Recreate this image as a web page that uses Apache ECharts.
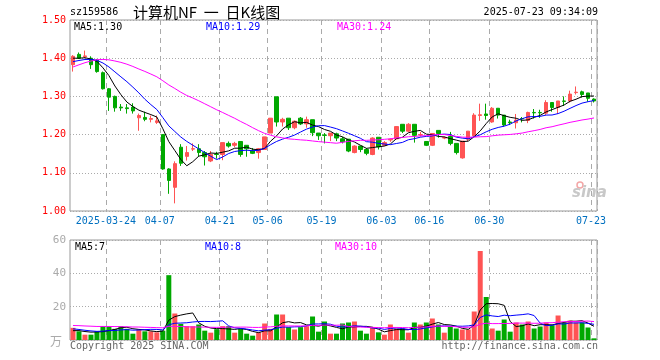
<!DOCTYPE html>
<html><head><meta charset="utf-8">
<script src="https://cdn.jsdelivr.net/npm/echarts@6/dist/echarts.min.js"></script>
<style>html,body{margin:0;padding:0;background:#fff}#c{width:660px;height:360px}</style>
</head><body><div id="c"></div>
<script>
// ---- data ----
const dates = [
'2025-03-14','2025-03-17','2025-03-18','2025-03-19','2025-03-20','2025-03-21',
'2025-03-24','2025-03-25','2025-03-26','2025-03-27','2025-03-28','2025-03-31',
'2025-04-01','2025-04-02','2025-04-03','2025-04-07','2025-04-08','2025-04-09','2025-04-10','2025-04-11',
'2025-04-14','2025-04-15','2025-04-16','2025-04-17','2025-04-18','2025-04-21','2025-04-22','2025-04-23',
'2025-04-24','2025-04-25','2025-04-28','2025-04-29','2025-04-30','2025-05-06','2025-05-07','2025-05-08',
'2025-05-09','2025-05-12','2025-05-13','2025-05-14','2025-05-15','2025-05-16','2025-05-19','2025-05-20',
'2025-05-21','2025-05-22','2025-05-23','2025-05-26','2025-05-27','2025-05-28','2025-05-29','2025-05-30',
'2025-06-03','2025-06-04','2025-06-05','2025-06-06','2025-06-09','2025-06-10','2025-06-11','2025-06-12',
'2025-06-16','2025-06-17','2025-06-18','2025-06-19','2025-06-20','2025-06-23','2025-06-24','2025-06-25',
'2025-06-26','2025-06-27','2025-06-30','2025-07-01','2025-07-02','2025-07-03','2025-07-04','2025-07-07',
'2025-07-08','2025-07-09','2025-07-10','2025-07-11','2025-07-14','2025-07-15','2025-07-16','2025-07-17',
'2025-07-18','2025-07-21','2025-07-22','2025-07-23'];
const opens = [
1.383,1.410,1.404,1.400,1.395,1.362,1.320,1.300,1.272,1.270,1.272,1.244,1.245,1.240,1.232,1.200,1.110,1.062,1.167,1.143,
1.162,1.163,1.153,1.131,1.149,1.148,1.177,1.172,1.182,1.172,1.157,1.153,1.161,1.204,1.299,1.233,1.243,1.218,1.243,1.228,
1.239,1.204,1.199,1.197,1.202,1.189,1.188,1.153,1.170,1.161,1.148,1.193,1.172,1.186,1.189,1.227,1.209,1.227,1.199,1.182,
1.172,1.211,1.191,1.195,1.177,1.139,1.188,1.197,1.250,1.254,1.233,1.269,1.251,1.233,1.231,1.242,1.237,1.258,1.258,1.256,
1.284,1.271,1.288,1.288,1.310,1.312,1.309,1.293];
const closes = [
1.405,1.400,1.406,1.383,1.365,1.320,1.298,1.270,1.270,1.268,1.262,1.250,1.240,1.242,1.236,1.110,1.080,1.124,1.125,1.153,
1.163,1.153,1.142,1.148,1.148,1.179,1.170,1.177,1.148,1.163,1.151,1.163,1.194,1.243,1.233,1.240,1.218,1.235,1.228,1.239,
1.205,1.197,1.198,1.204,1.191,1.181,1.157,1.170,1.161,1.151,1.191,1.168,1.179,1.188,1.221,1.209,1.227,1.198,1.200,1.172,
1.203,1.203,1.192,1.177,1.153,1.183,1.209,1.251,1.252,1.250,1.269,1.251,1.225,1.231,1.238,1.241,1.258,1.257,1.257,1.284,
1.271,1.288,1.287,1.306,1.311,1.305,1.295,1.288];
const lows = [
1.365,1.398,1.400,1.372,1.362,1.318,1.262,1.260,1.262,1.255,1.255,1.210,1.235,1.232,1.228,1.108,1.045,1.020,1.118,1.132,
1.157,1.142,1.119,1.128,1.137,1.133,1.166,1.167,1.142,1.142,1.149,1.137,1.161,1.204,1.221,1.221,1.212,1.214,1.225,1.218,
1.196,1.186,1.177,1.183,1.183,1.177,1.154,1.151,1.154,1.146,1.146,1.161,1.170,1.181,1.188,1.204,1.207,1.179,1.195,1.170,
1.170,1.192,1.188,1.172,1.148,1.137,1.183,1.195,1.236,1.239,1.231,1.242,1.221,1.225,1.216,1.232,1.230,1.242,1.244,1.251,
1.260,1.254,1.275,1.284,1.305,1.297,1.286,1.284];
const highs = [
1.408,1.415,1.420,1.405,1.398,1.365,1.322,1.302,1.280,1.280,1.282,1.255,1.260,1.250,1.250,1.200,1.112,1.130,1.175,1.170,
1.177,1.175,1.157,1.157,1.155,1.179,1.182,1.181,1.182,1.172,1.165,1.165,1.194,1.243,1.299,1.244,1.243,1.237,1.246,1.247,
1.239,1.204,1.204,1.204,1.205,1.194,1.188,1.172,1.170,1.165,1.193,1.193,1.183,1.190,1.222,1.227,1.230,1.227,1.207,1.182,
1.203,1.211,1.195,1.207,1.177,1.183,1.209,1.256,1.281,1.281,1.272,1.269,1.251,1.239,1.254,1.246,1.260,1.267,1.265,1.290,
1.284,1.288,1.300,1.315,1.326,1.315,1.309,1.295];
const volumes = [
7.3,5.2,3.2,3.2,5.2,8.3,8.3,6.7,8.3,6.7,3.8,6.3,5.2,5.2,4.6,5.6,38.9,15.9,9.7,8.3,
8.3,9.3,5.6,4.4,6.5,8.3,8.3,4.4,6.7,3.8,2.6,4.6,9.9,6.7,15.3,15.3,7.7,6.3,7.7,8.3,
14.1,5.0,11.1,3.8,3.8,9.9,10.5,11.1,5.6,3.8,7.3,4.6,3.2,9.3,6.9,6.9,4.4,10.5,9.3,10.5,
12.9,9.3,4.4,8.1,6.9,6.3,6.3,17.1,53.4,25.8,6.9,5.6,12.3,5.0,10.5,9.3,11.1,6.9,8.1,10.5,
8.9,14.7,10.5,11.7,10.5,10.5,7.5,1.0];
// estimated sessions before the first visible candle (only feed the moving averages)
const warmupCloses = [1.23,1.24,1.25,1.26,1.30,1.33,1.36,1.38,1.41,1.44,1.45,1.43,1.45,1.45,
1.42,1.41,1.40,1.42,1.41,1.36,1.37,1.38,1.38,1.39,1.39,1.40,1.40,1.40,1.395];
const warmupVolumes = [8,9,7,10,8,9,8,10,9,8,7,9,8,9,8.7,12,15,14,13,12.3,9,8,7,8,7,5,6,5,4.7];
const tickDates = ['2025-03-24','2025-04-07','2025-04-21','2025-05-06','2025-05-19','2025-06-03','2025-06-16','2025-06-30','2025-07-23'];
const tickLabels = ['2025-03-24','04-07','04-21','05-06','05-19','06-03','06-16','06-30','07-23'];
const priceLegend = ['MA5:1.30','MA10:1.29','MA30:1.24'];
const volumeLegend = ['MA5:7','MA10:8','MA30:10'];
const maPeriods = [5,10,30];
const maColors = ['#000000','#0000ff','#ff00ff'];

function movingAverage(vals, warm, n){
  const full = warm.concat(vals), out = [];
  for (let i = 0; i < vals.length; i++){
    const j = warm.length + i; let s = 0;
    for (let k = j - n + 1; k <= j; k++) s += full[k];
    out.push(+(s / n).toFixed(4));
  }
  return out;
}

const UP = '#ff5454', DOWN = '#00a800';
const MONO = 'DejaVu Sans Mono';
const isTick = (i, v) => tickDates.indexOf(v) >= 0;
const gridLineV = {show:true, interval:isTick, lineStyle:{color:'#aaaaaa', width:1, type:[5,4]}};
const gridLineH = {show:true, lineStyle:{color:'#aaaaaa', width:1, type:[1,2]}};

const chart = echarts.init(document.getElementById('c'), null, {renderer:'canvas'});
const series = [{
  type:'candlestick', xAxisIndex:0, yAxisIndex:0, barWidth:4,
  data: dates.map((d,i)=>[opens[i], closes[i], lows[i], highs[i]]),
  itemStyle:{color:UP, color0:DOWN, borderColor:UP, borderColor0:DOWN, borderWidth:1}
}];
maPeriods.forEach((n,k)=>series.push({
  type:'line', xAxisIndex:0, yAxisIndex:0, symbol:'none', silent:true,
  data: movingAverage(closes, warmupCloses, n),
  lineStyle:{color:maColors[k], width:1}
}));
series.push({
  type:'bar', xAxisIndex:1, yAxisIndex:1, barWidth:5,
  data: volumes.map((v,i)=>({value:v, itemStyle:{color: closes[i] >= opens[i] ? UP : DOWN}}))
});
maPeriods.forEach((n,k)=>series.push({
  type:'line', xAxisIndex:1, yAxisIndex:1, symbol:'none', silent:true,
  data: movingAverage(volumes, warmupVolumes, n),
  lineStyle:{color:maColors[k], width:1}
}));

function txt(x, y, text, fill, font, align){
  return {type:'text', x:x, y:y, silent:true, z:100,
    style:{text:text, fill:fill, font:font, align:align||'left', verticalAlign:'middle'}};
}
const f10 = '10px "' + MONO + '"';
const graphic = [
  txt(70, 12, 'sz159586', '#000', f10),
  txt(133, 12, '计算机NF  一  日K线图', '#000', '15px "Noto Sans CJK SC"'),
  txt(598, 12, '2025-07-23 09:34:09', '#000', f10, 'right'),
  txt(74, 27, priceLegend[0], maColors[0], f10),
  txt(206, 27, priceLegend[1], maColors[1], f10),
  txt(337, 27, priceLegend[2], maColors[2], f10),
  txt(75, 247, volumeLegend[0], maColors[0], f10),
  txt(205, 247, volumeLegend[1], maColors[1], f10),
  txt(335, 247, volumeLegend[2], maColors[2], f10),
  txt(56, 341, '万', '#aaaaaa', '12px "Noto Sans CJK SC"', 'center'),
  txt(70, 346, 'Copyright 2025 SINA.COM', '#666666', f10),
  txt(598, 346, 'http://finance.sina.com.cn', '#666666', f10, 'right'),
  {type:'circle', silent:true, z:5, shape:{cx:580, cy:185, r:3}, style:{fill:'none', stroke:'#f3a6a6', lineWidth:1.5}},
  txt(572, 193, 'sina', '#c8c8c8', 'italic bold 15px "DejaVu Sans"')
];

chart.setOption({
  animation:false,
  backgroundColor:'#ffffff',
  grid:[
    {left:70, top:20, width:527, height:191, show:true, borderColor:'#999999', borderWidth:1},
    {left:70, top:240, width:527, height:100, show:true, borderColor:'#999999', borderWidth:1}
  ],
  xAxis:[
    {type:'category', gridIndex:0, data:dates, boundaryGap:true,
     axisLine:{show:false}, axisTick:{show:false},
     axisLabel:{interval:isTick, color:'#0070c0', fontFamily:MONO, fontSize:10, margin:5, padding:[0,6,0,0],
       formatter:(v)=>tickLabels[tickDates.indexOf(v)] || ''},
     splitLine:gridLineV},
    {type:'category', gridIndex:1, data:dates, boundaryGap:true,
     axisLine:{show:false}, axisTick:{show:false}, axisLabel:{show:false},
     splitLine:gridLineV}
  ],
  yAxis:[
    {type:'value', gridIndex:0, min:1.0, max:1.5, interval:0.1,
     axisLine:{show:false}, axisTick:{show:false},
     axisLabel:{color:'#ff0000', fontFamily:MONO, fontSize:10, margin:4, formatter:(v)=>v.toFixed(2)},
     splitLine:gridLineH},
    {type:'value', gridIndex:1, min:0, max:60, interval:20,
     axisLine:{show:false}, axisTick:{show:false},
     axisLabel:{color:'#aaaaaa', fontFamily:MONO, fontSize:11, margin:4, formatter:(v)=> v === 0 ? '' : String(v)},
     splitLine:gridLineH}
  ],
  series:series,
  graphic:graphic
});
</script></body></html>
